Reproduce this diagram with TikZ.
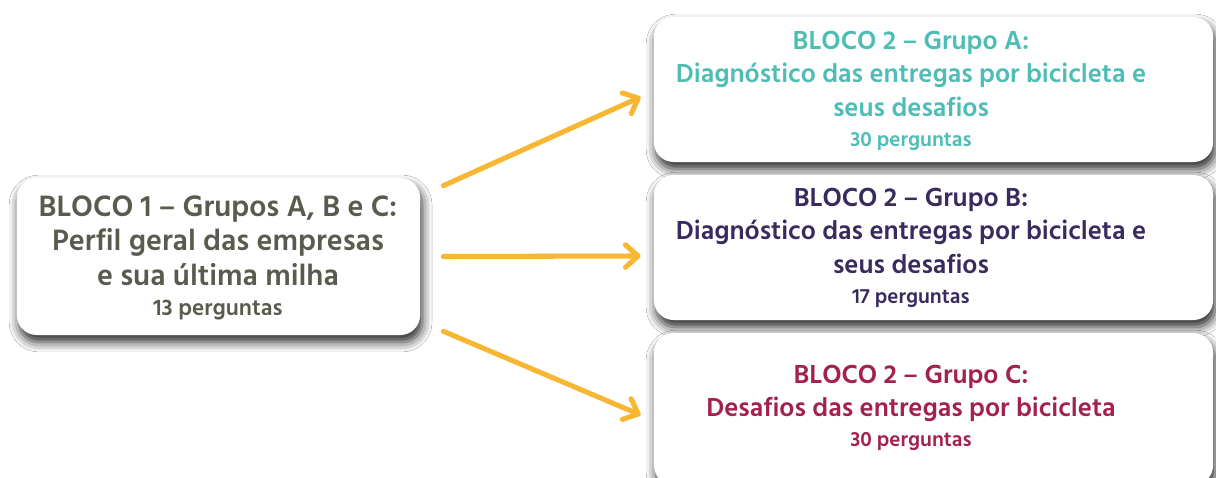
\documentclass[tikz,border=0pt]{standalone}
\usepackage{fontspec}
\setmainfont{Hind Siliguri}
\usepackage{tikz}
\usetikzlibrary{calc,arrows.meta,shadows.blur}
\definecolor{leftgray}{HTML}{5B5A4F}
\definecolor{grpA}{HTML}{4EBDB6}
\definecolor{grpB}{HTML}{3A2B5F}
\definecolor{grpC}{HTML}{A3214F}
\definecolor{arrowyellow}{HTML}{F8B732}
\newcommand\qcount[2]{{\fontsize{#1}{18}\selectfont #2}}

\begin{document}
\begin{tikzpicture}[x=0.025cm, y=-0.025cm,
	card/.style={fill=white, rounded corners=14pt, inner sep=0pt,
		blur shadow={shadow xshift=1.5pt, shadow yshift=-5pt, shadow blur radius=7pt, shadow opacity=85}},
	cardtext/.style={align=center, font=\fontsize{19}{23.5}\selectfont\bfseries, inner sep=0pt},
	lefttext/.style={align=center, font=\fontsize{21.5}{24.5}\selectfont\bfseries, inner sep=0pt},
	flow/.style={line width=3.6pt, color=arrowyellow, line cap=round,
		-{Straight Barb[length=9pt, width=16pt, round]}}]
			%%%%% START %%%%%
			
			\useasboundingbox (0,0) rectangle (1216,478);
			\fill[white] (0,0) rectangle (1216,478);
			\clip (0,0) rectangle (1216,478);
			
			% left block
			\node[card, minimum width=10.075cm, minimum height=3.925cm] (L) at (218.5,256.5) {};
			\node[lefttext, color=leftgray] (Ltext) at (218,258) {BLOCO 1 -- Grupos A, B e C:\\Perfil geral das empresas\\e sua última milha\\[-3pt]\qcount{16.5}{13 perguntas}};
			
			% right blocks
			\node[card, minimum width=13.975cm, minimum height=3.625cm] (A) at (933.5,89.5) {};
			\node[cardtext, color=grpA] (Atext) at (911,91) {BLOCO 2 -- Grupo A:\\Diagnóstico das entregas por bicicleta e\\seus desafios\\[-2pt]\qcount{15}{30 perguntas}};
			
			\node[card, minimum width=13.975cm, minimum height=3.625cm] (B) at (933.5,247.5) {};
			\node[cardtext, color=grpB] (Btext) at (911,248) {BLOCO 2 -- Grupo B:\\Diagnóstico das entregas por bicicleta e\\seus desafios\\[-2pt]\qcount{15}{17 perguntas}};
			
			\node[card, minimum width=13.975cm, minimum height=3.8cm] (C) at (933.5,409) {};
			\node[cardtext, color=grpC] (Ctext) at (911,408) {BLOCO 2 -- Grupo C:\\Desafios das entregas por bicicleta\\[-2pt]\qcount{15}{30 perguntas}};
			
			% arrows
			\draw[flow] ($(L.north east)+(23,8)$) -- ($(A.west)+(-13,7.5)$);
			\draw[flow] ($(L.east)+(23,0)$) -- ($(B.west)+(-13,8.5)$);
			\draw[flow] ($(L.south east)+(23,-4)$) -- ($(C.west)+(-13,6)$);
			
			%%%%% END %%%%%
\end{tikzpicture}
\end{document}
